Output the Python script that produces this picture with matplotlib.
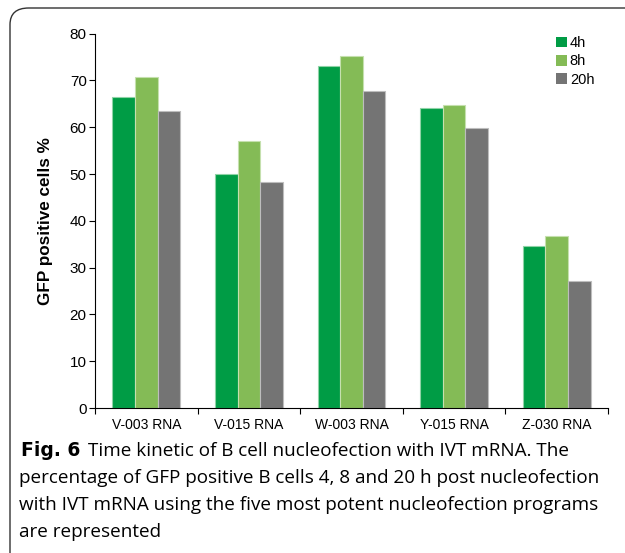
import matplotlib
matplotlib.use("Agg")
import matplotlib.pyplot as plt
import numpy as np
from matplotlib.patches import FancyBboxPatch, Patch

categories = ["V-003 RNA", "V-015 RNA", "W-003 RNA", "Y-015 RNA", "Z-030 RNA"]
series_names = ["4h", "8h", "20h"]
vals_4h = [66.5, 50.0, 73.1, 64.2, 34.7]
vals_8h = [70.7, 57.0, 75.3, 64.7, 36.8]
vals_20h = [63.5, 48.4, 67.8, 59.8, 27.1]
colors = ["#009C45", "#84BB56", "#747474"]
edgecols = ["#8FD3A6", "#C5E0AE", "#BDBDBD"]

W, H = 625, 553
fig = plt.figure(figsize=(W/100, H/100), dpi=100)

# rounded frame
frame = FancyBboxPatch((10/W, -20/H), 660/W, (H-8+20)/H, boxstyle="round,pad=0,rounding_size=0.03",
                       transform=fig.transFigure, fill=False, edgecolor="#333333", linewidth=1.0, clip_on=False)
fig.patches.append(frame)

ax = fig.add_axes([95/W, (H-408)/H, (608-95)/W, (408-33.7)/H])
x = np.arange(len(categories))
bw = 0.22
for i, (vals, c, ec) in enumerate(zip([vals_4h, vals_8h, vals_20h], colors, edgecols)):
    ax.bar(x + (i-1)*bw, vals, width=bw, color=c, edgecolor=ec, linewidth=0.8, label=series_names[i])

ax.set_xlim(-0.5, len(categories)-0.5)
ax.set_ylim(0, 80)
ax.set_yticks(range(0, 81, 10))
ax.set_xticks(np.arange(-0.5, len(categories), 1), minor=False)
ax.set_xticklabels([])
ax.set_xticks(x, minor=True)
ax.set_xticklabels(categories, minor=True, fontsize=10, family="Liberation Sans")
ax.tick_params(axis="x", which="minor", length=0, pad=7)
ax.tick_params(axis="x", which="major", length=4, direction="out", width=0.8)
ax.tick_params(axis="y", length=4, direction="out", width=0.8, labelsize=11, pad=2)
for lab in ax.get_yticklabels():
    lab.set_family("Liberation Sans")
for s in ["top", "right"]:
    ax.spines[s].set_visible(False)
for s in ["left", "bottom"]:
    ax.spines[s].set_linewidth(0.8)
ax.set_ylabel("GFP positive cells %", fontsize=12.3, fontweight="bold", family="Liberation Sans", labelpad=12)

handles = [Patch(facecolor=c, edgecolor="none") for c in colors]
ax.legend(handles, series_names, loc="upper left", bbox_to_anchor=(556/W, (H-36)/H), bbox_transform=fig.transFigure,
          frameon=False, handlelength=0.75, handleheight=0.75, handletextpad=0.2, labelspacing=0.3,
          prop={"family": "Liberation Sans", "size": 10.5}, borderaxespad=0, borderpad=0)

cap_family = "Open Sans"
fs = 13.6
y0 = H - 451
fig.text(21/W, y0/H, "Fig. 6", fontsize=13.5, fontweight="bold", family="DejaVu Sans", va="center", ha="left")
fig.text(88/W, y0/H, "Time kinetic of B cell nucleofection with IVT mRNA. The", fontsize=fs, family=cap_family, va="center", ha="left")
lines = ["percentage of GFP positive B cells 4, 8 and 20 h post nucleofection",
         "with IVT mRNA using the five most potent nucleofection programs",
         "are represented"]
for k, t in enumerate(lines):
    fig.text(19/W, (y0 - 27*(k+1))/H, t, fontsize=fs, family=cap_family, va="center", ha="left")

fig.savefig("out.png", dpi=100)
